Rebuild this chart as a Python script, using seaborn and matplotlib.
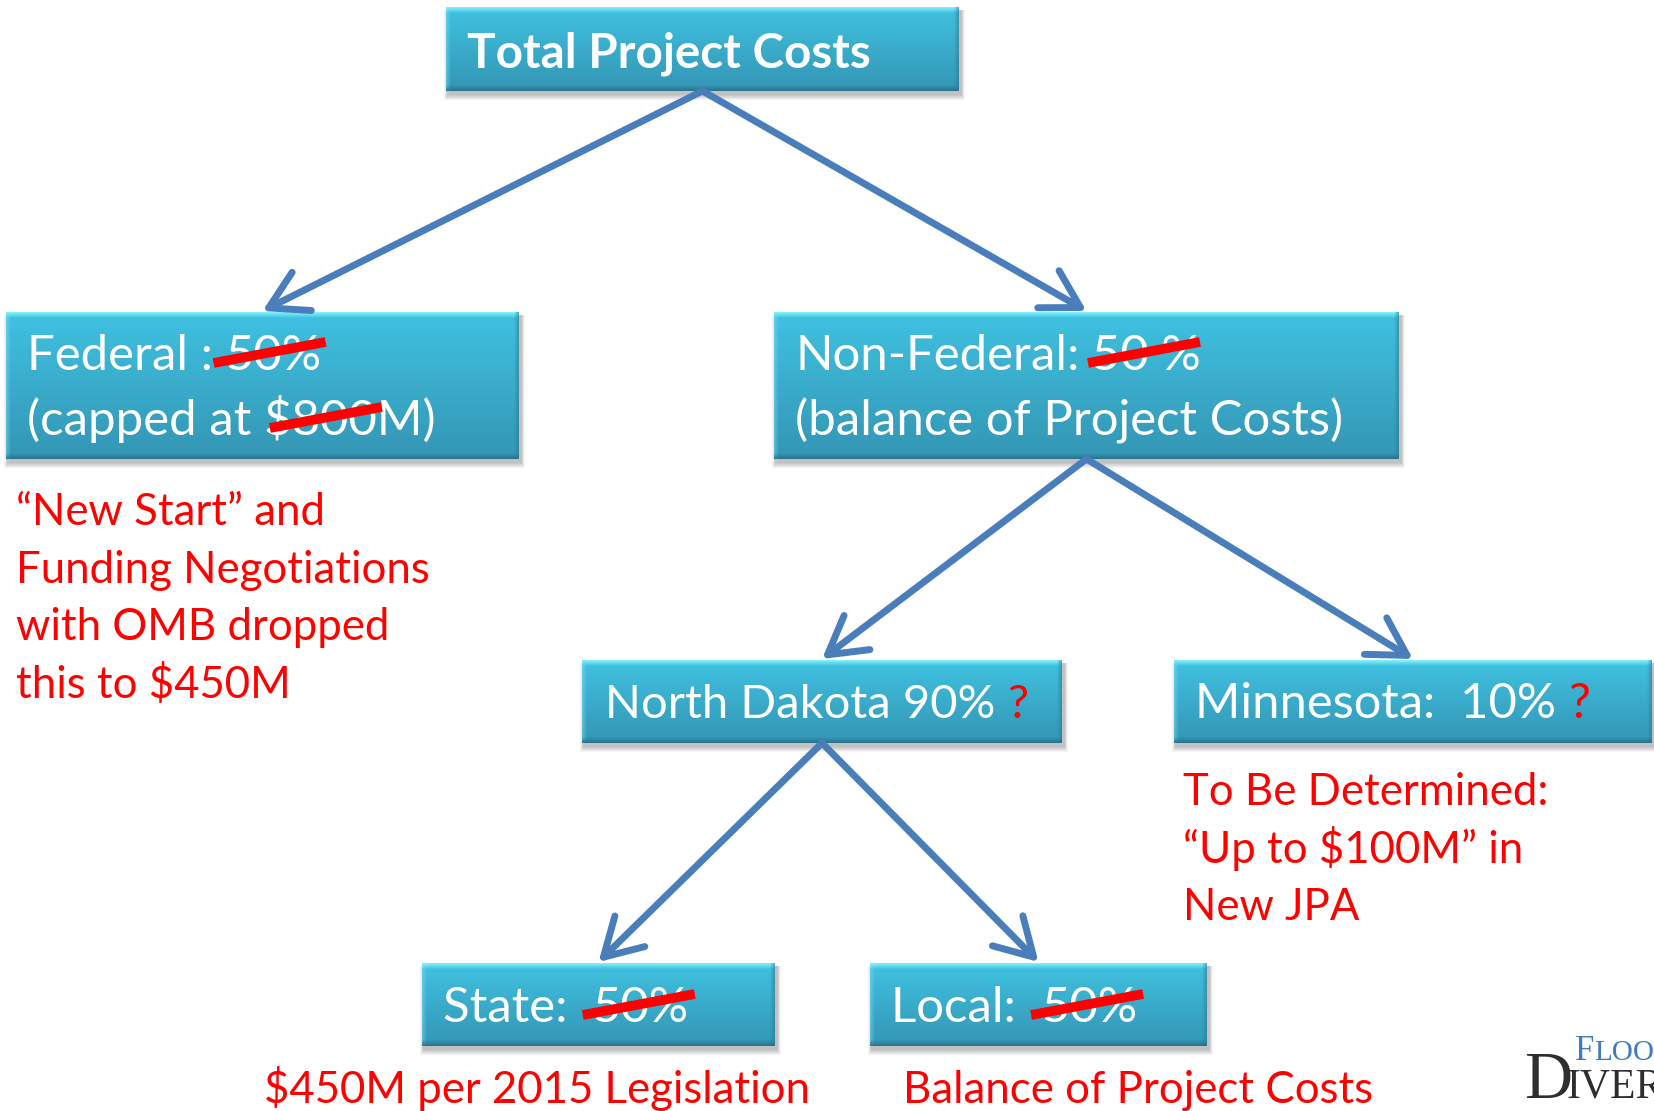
import numpy as np
import matplotlib.pyplot as plt
import seaborn as sns

# 슬라이드 문구
title_text = "Total Project Costs"
federal_lines = ["Federal :", "(capped at"]
federal_struck = ["50%", "$800M)"]
nonfed_lines = ["Non-Federal:", "(balance of Project Costs)"]
nonfed_struck = ["50 %"]
north_dakota_text = "North Dakota 90%"
minnesota_text = "Minnesota:  10%"
state_text = "State: "
local_text = "Local: "
split_struck = ["50%", "50%"]
query_mark = "?"
federal_note = ["\u201cNew Start\u201d and", "Funding Negotiations", "with OMB dropped", "this to $450M"]
minnesota_note = ["To Be Determined:", "\u201cUp to $100M\u201d in", "New JPA"]
state_note = "$450M per 2015 Legislation"
local_note = "Balance of Project Costs"
logo_words = ["F", "LOOD", "D", "IVERSION"]

# 트리 구조 (부모 -> 자식)
edges = [("total", "federal"), ("total", "nonfed"), ("nonfed", "nd"),
         ("nonfed", "mn"), ("nd", "state"), ("nd", "local")]

# 레이아웃 (픽셀, 위에서 아래로)
boxes = {
    "total": (446, 7, 959, 91),
    "federal": (6, 312, 519, 459),
    "nonfed": (774, 312, 1399, 459),
    "nd": (582, 660, 1062, 743),
    "mn": (1174, 660, 1652, 743),
    "state": (422, 963, 775, 1046),
    "local": (870, 963, 1207, 1046),
}

WHITE = "white"
RED = "#ff0000"
ARROW = "#4a7ebb"
LOGO_BLUE = "#3d7dbf"
LOGO_DARK = "#2e2e2e"


def set_config():
    sns.set_theme(style="white")
    plt.rcParams["font.family"] = ["Lato", "DejaVu Sans"]


def text_width(fig, renderer, text, size, weight="normal", family=None):
    # 끝 공백까지 재기 위해 "x"를 붙여서 잰 뒤 뺍니다
    kw = dict(fontsize=size, fontweight=weight)
    if family:
        kw["family"] = family
    t1 = fig.text(0, 0, text + "x", **kw)
    t2 = fig.text(0, 0, "x", **kw)
    w = t1.get_window_extent(renderer).width - t2.get_window_extent(renderer).width
    t1.remove()
    t2.remove()
    return w


def fit_size(fig, renderer, text, width, weight="normal"):
    return 20 * width / text_width(fig, renderer, text, 20, weight)


def draw_box(ax, x0, y0, x1, y1):
    # 그림자
    for k in range(1, 7):
        ax.add_patch(plt.Rectangle((x0 + 2 - k * 0.6, y0 + 3), x1 - x0 + k * 1.2, y1 - y0 + k,
                                   color="black", alpha=0.045, lw=0, zorder=1))
    h, w = int(y1 - y0), int(x1 - x0)
    yy = np.arange(h)[:, None] + 0.5
    xx = np.arange(w)[None, :] + 0.5
    top_c = np.array(sns.color_palette(["#40c2e1"])[0])
    bot_c = np.array(sns.color_palette(["#3495b4"])[0])
    img = np.broadcast_to(top_c + (bot_c - top_c) * (yy / h)[..., None], (h, w, 3)).copy()

    def mix(weight, color):
        c = np.array(sns.color_palette([color])[0])
        img[:] = img * (1 - weight[..., None]) + c * weight[..., None]

    ones = np.ones((h, w))
    mix(np.clip((6 - yy) / 6, 0, 1) * ones * 0.95, "#8af7ff")
    mix(np.clip((5 - xx) / 5, 0, 1) * ones * 0.5, "#7fe6f7")
    mix(np.clip((xx - (w - 5)) / 5, 0, 1) * ones * 0.6, "#2a7890")
    mix(np.clip((yy - (h - 6)) / 6, 0, 1) * ones * 0.9, "#276f86")
    ax.imshow(img, extent=(x0, x1, y1, y0), interpolation="bilinear", aspect="auto", zorder=2)


def strike(ax, x, base, offset=-10):
    ax.plot([x + offset, x + offset + 112], [base - 7, base - 28], color=RED, lw=7,
            solid_capstyle="butt", zorder=6)


def main():
    set_config()
    fig = plt.figure(figsize=(16.54, 11.11), dpi=100)
    ax = fig.add_axes([0, 0, 1, 1])
    renderer = fig.canvas.get_renderer()

    box_size = fit_size(fig, renderer, nonfed_lines[1], 549)
    red_size = fit_size(fig, renderer, federal_note[1], 414)
    title_size = fit_size(fig, renderer, title_text, 404, weight="bold")
    nd_size = min(box_size, fit_size(fig, renderer, north_dakota_text, 390))
    mn_size = min(box_size, fit_size(fig, renderer, minnesota_text, 362))

    for b in boxes.values():
        draw_box(ax, *b)

    # 화살표
    for parent, child in edges:
        p, c = boxes[parent], boxes[child]
        ax.annotate("", xy=((c[0] + c[2]) / 2, c[1] - 1), xytext=((p[0] + p[2]) / 2, p[3]),
                    arrowprops=dict(arrowstyle="->,head_length=0.95,head_width=0.55", lw=5,
                                    color=ARROW, shrinkA=0, shrinkB=0, mutation_scale=28,
                                    capstyle="round", joinstyle="round"), zorder=3)

    def put(x, base, s, size, color=WHITE, weight="normal"):
        ax.text(x, base, s, fontsize=size, color=color, fontweight=weight,
                ha="left", va="baseline", zorder=5)
        return x + text_width(fig, renderer, s, size, weight)

    def gap(size, n=1):
        return text_width(fig, renderer, " " * n, size)

    put(467, 67, title_text, title_size, weight="bold")

    # 연방
    x = put(27, 370, federal_lines[0], box_size) + gap(box_size)
    put(x, 370, federal_struck[0], box_size)
    strike(ax, x, 370, -12)
    x = put(27, 435, federal_lines[1], box_size) + gap(box_size)
    put(x, 435, federal_struck[1], box_size)
    strike(ax, x, 435, 6)

    # 비연방
    x = put(795, 370, nonfed_lines[0], box_size) + gap(box_size)
    put(x, 370, nonfed_struck[0], box_size)
    strike(ax, x, 370, -4)
    put(795, 435, nonfed_lines[1], box_size)

    # 주별 분담
    x = put(605, 718, north_dakota_text, nd_size) + gap(nd_size)
    put(x, 718, query_mark, nd_size, color=RED)
    x = put(1195, 718, minnesota_text, mn_size) + gap(mn_size)
    put(x, 718, query_mark, mn_size, color=RED)

    x = put(443, 1022, state_text, box_size) + gap(box_size)
    put(x, 1022, split_struck[0], box_size)
    strike(ax, x, 1022, -10)
    x = put(891, 1022, local_text, box_size) + gap(box_size)
    put(x, 1022, split_struck[1], box_size)
    strike(ax, x, 1022, -10)

    # 빨간 메모
    for i, line in enumerate(federal_note):
        put(16, 525 + i * 57.7, line, red_size, color=RED)
    for i, line in enumerate(minnesota_note):
        put(1183, 805 + i * 57.7, line, red_size, color=RED)
    put(264, 1103, state_note, red_size, color=RED)
    put(903, 1103, local_note, red_size, color=RED)

    # 로고 (오른쪽 아래, 잘려 있음)
    serif = "Liberation Serif"
    f_w = text_width(fig, renderer, logo_words[0], 25, family=serif)
    ax.text(1575, 1060, logo_words[0], fontsize=25, color=LOGO_BLUE, family=serif,
            va="baseline", zorder=5)
    ax.text(1575 + f_w, 1060, logo_words[1], fontsize=21, color=LOGO_BLUE, family=serif,
            va="baseline", zorder=5)
    ax.text(1524, 1098, logo_words[2], fontsize=48, color=LOGO_DARK, family=serif,
            va="baseline", zorder=5)
    ax.text(1566, 1098, logo_words[3], fontsize=30, color=LOGO_DARK, family=serif,
            va="baseline", zorder=5)

    ax.set_xlim(0, 1654)
    ax.set_ylim(1111, 0)
    ax.axis("off")
    fig.savefig("out.png", dpi=100)


if __name__ == "__main__":
    main()
